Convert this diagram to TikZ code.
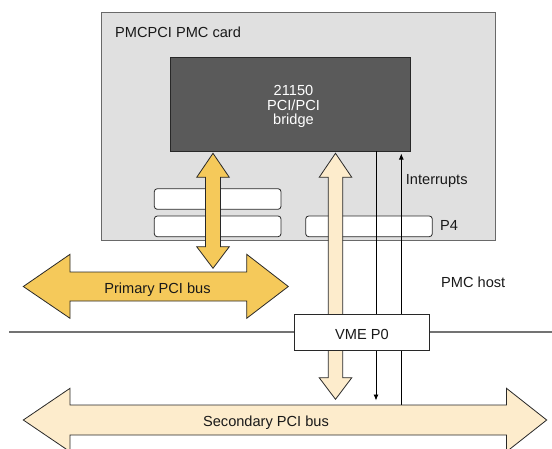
\documentclass[tikz,border=0pt]{standalone}
\usepackage{fontspec}
\setmainfont{Liberation Sans}
\usetikzlibrary{arrows.meta}
\definecolor{cardfill}{RGB}{224,224,224}
\definecolor{cardline}{RGB}{105,105,105}
\definecolor{bridgefill}{RGB}{90,90,90}
\definecolor{busorange}{RGB}{245,201,90}
\definecolor{buslight}{RGB}{253,236,204}
\definecolor{txt}{RGB}{25,25,25}
\definecolor{edge}{RGB}{40,40,40}
\begin{document}
\begin{tikzpicture}[x=1pt,y=-1pt,
  font=\fontsize{14.6}{14.6}\selectfont,
  lbl/.style={inner sep=0pt, text=txt},
  slotbox/.style={draw=edge, fill=white, line width=0.8pt, rounded corners=3pt},
  fatarrow/.style={draw=edge, line width=0.8pt, line join=miter},
  thin/.style={draw=black, line width=0.9pt},
  tip/.style={-{Latex[length=6pt,width=5pt]}}
]
\useasboundingbox (0,0) rectangle (552,448);

% card and bridge
\node[draw=cardline, fill=cardfill, line width=1pt, minimum width=394pt, minimum height=228pt, inner sep=0pt] (card) at (298.6,126.7) {};
\node[draw=edge, fill=bridgefill, line width=0.8pt, minimum width=240pt, minimum height=93.7pt, inner sep=0pt] (bridge) at (290.7,104.2) {};
\node[lbl, text=white, align=center, font=\fontsize{14.6}{14.6}\selectfont] (bridgelabel) at (293.5,106.5) {21150\\PCI/PCI\\bridge};
\node[lbl, anchor=base west] (cardlabel) at (115,37.3) {PMCPCI PMC card};

% slots
\draw[slotbox] (154.3,188.7) rectangle (281,209.3);
\draw[slotbox] (154.3,216) rectangle (281,236.7);
\draw[slotbox] (305.7,216) rectangle (432.3,236.7);
\node[lbl, anchor=base west] (p4) at (440,230) {P4};

% vertical fat arrows
\draw[fatarrow, fill=busorange] (213,153.3) -- (229.3,177.3) -- (220.5,177.3) -- (220.5,246.7) -- (229.3,246.7) -- (213,268.3) -- (196.7,246.7) -- (205.5,246.7) -- (205.5,177.3) -- (196.7,177.3) -- cycle;
\draw[fatarrow, fill=buslight] (335.5,153.3) -- (351.8,177.3) -- (342.7,177.3) -- (342.7,377.7) -- (351.8,377.7) -- (335.5,399.3) -- (319.2,377.7) -- (328.3,377.7) -- (328.3,177.3) -- (319.2,177.3) -- cycle;

% thin signal lines
\coordinate (dn) at (376,400.5);
\coordinate (intbot) at (401.3,405);
\coordinate (inttop) at (401.3,153.5);
\draw[thin, tip] (bridge.south -| dn) -- (dn);
\draw[thin, tip] (intbot) -- (inttop);
\node[lbl, anchor=base west] (interrupts) at (405.7,184.3) {Interrupts};

% primary bus
\draw[fatarrow, fill=busorange] (23.3,286.5) -- (70,254.3) -- (70,272) -- (246.7,272) -- (246.7,254.3) -- (288.3,286.5) -- (246.7,318.3) -- (246.7,301) -- (70,301) -- (70,318.3) -- cycle;
\node[lbl, anchor=base] (primary) at (157.5,293.3) {Primary PCI bus};

% host boundary
\coordinate (hl) at (9,332);
\coordinate (hr) at (552,332);
\draw[draw=black!55, line width=1.2pt] (hl) -- (hr);
\node[lbl, anchor=base west] (host) at (441,287.3) {PMC host};

\node[draw=edge, fill=white, line width=0.8pt, minimum width=135.4pt, minimum height=36.3pt, inner sep=0pt] (vme) at (362,332.2) {};
\node[lbl, anchor=base] (vmelabel) at (362,339.3) {VME P0};

% secondary bus
\draw[fatarrow, fill=buslight] (23.3,420) -- (70,388.3) -- (70,405) -- (506.5,405) -- (506.5,388.3) -- (546.7,420) -- (506.5,451.7) -- (506.5,435) -- (70,435) -- (70,451.7) -- cycle;
\node[lbl, anchor=base] (secondary) at (266,426) {Secondary PCI bus};
\end{tikzpicture}
\end{document}
